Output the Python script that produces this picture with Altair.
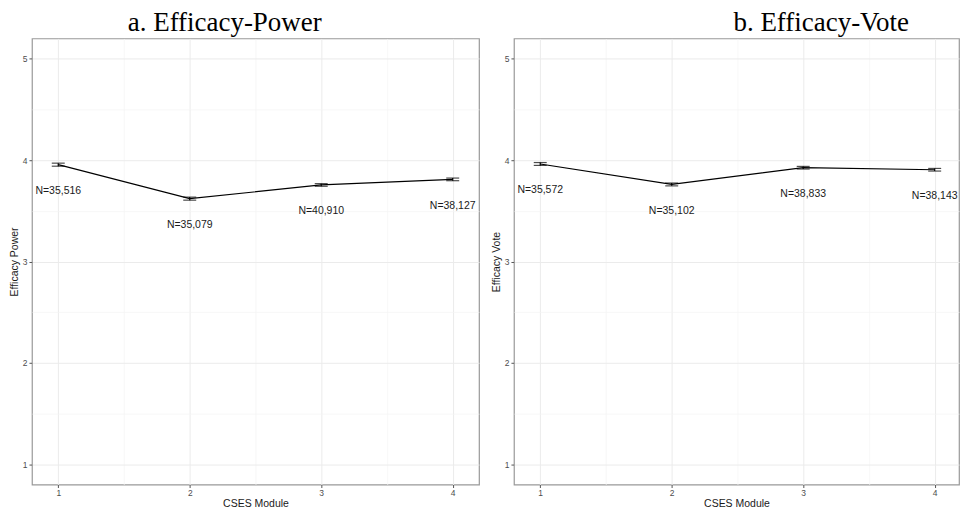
import altair as alt
import pandas as pd

modules = [1, 2, 3, 4]

power_mean = [3.955, 3.62, 3.755, 3.81]
power_lo = [3.94, 3.605, 3.742, 3.797]
power_hi = [3.97, 3.635, 3.768, 3.823]
power_n = ["N=35,516", "N=35,079", "N=40,910", "N=38,127"]

vote_mean = [3.962, 3.76, 3.925, 3.905]
vote_lo = [3.948, 3.746, 3.912, 3.892]
vote_hi = [3.976, 3.774, 3.938, 3.918]
vote_n = ["N=35,572", "N=35,102", "N=38,833", "N=38,143"]

label_offset = 0.26
minor_test = "datum.value % 1 !== 0"
label_expr = "datum.value % 1 === 0 ? format(datum.value, 'd') : ''"


def panel(mean, lo, hi, ns, ytitle, title, dx, xmax, width):
    df = pd.DataFrame({"module": modules, "mean": mean, "lo": lo, "hi": hi, "n": ns})
    x = alt.X(
        "module:Q",
        scale=alt.Scale(domain=[0.8, xmax], nice=False, zero=False),
        axis=alt.Axis(
            values=[1, 1.5, 2, 2.5, 3, 3.5, 4],
            labelExpr=label_expr,
            gridColor={"condition": {"test": minor_test, "value": "#F3F3F3"}, "value": "#EBEBEB"},
            gridWidth={"condition": {"test": minor_test, "value": 0.7}, "value": 1},
            tickOpacity={"condition": {"test": minor_test, "value": 0}, "value": 1},
            labelOverlap=False,
            labelPadding=1,
            titlePadding=2,
        ),
        title="CSES Module",
    )
    yaxis = alt.Axis(
        values=[1, 1.5, 2, 2.5, 3, 3.5, 4, 4.5, 5],
        labelExpr=label_expr,
        gridColor={"condition": {"test": minor_test, "value": "#F3F3F3"}, "value": "#EBEBEB"},
        gridWidth={"condition": {"test": minor_test, "value": 0.7}, "value": 1},
        tickOpacity={"condition": {"test": minor_test, "value": 0}, "value": 1},
        labelOverlap=False,
        titlePadding=3,
    )
    yscale = alt.Scale(domain=[0.8, 5.2], nice=False, zero=False)
    base = alt.Chart(df)
    line = base.mark_line(color="black", strokeWidth=1.2).encode(
        x=x, y=alt.Y("mean:Q", scale=yscale, axis=yaxis, title=ytitle)
    )
    bars = base.mark_rule(color="black", strokeWidth=1.2).encode(
        x="module:Q", y="lo:Q", y2="hi:Q"
    )
    cap_lo = base.mark_tick(color="black", orient="horizontal", size=13, thickness=1.2).encode(
        x="module:Q", y="lo:Q"
    )
    cap_hi = base.mark_tick(color="black", orient="horizontal", size=13, thickness=1.2).encode(
        x="module:Q", y="hi:Q"
    )
    text = base.transform_calculate(ly=f"datum.mean - {label_offset}").mark_text(
        font="Liberation Sans", fontSize=10.5, color="#1a1a1a", align="center", baseline="middle"
    ).encode(x="module:Q", y="ly:Q", text="n:N")
    return alt.layer(line, bars, cap_lo, cap_hi, text).properties(
        width=width,
        height=447,
        title=alt.TitleParams(
            title,
            font="Liberation Serif",
            fontSize=27,
            fontWeight="normal",
            color="black",
            anchor="start",
            frame="group",
            dx=dx,
            offset=1,
        ),
    )


a = panel(power_mean, power_lo, power_hi, power_n, "Efficacy Power", "a. Efficacy-Power", 96, 4.2, 448)
b = panel(vote_mean, vote_lo, vote_hi, vote_n, "Efficacy Vote", "b. Efficacy-Vote", 220, 4.185, 446)

chart = alt.hconcat(a, b, spacing=10).properties(
    padding={"left": 0, "top": 0, "right": 0, "bottom": 0}
).configure_view(stroke="#999999", strokeWidth=1.2).configure_axis(
    domain=False,
    labelFont="Liberation Sans",
    labelFontSize=8.5,
    labelColor="#4D4D4D",
    labelPadding=2,
    tickSize=3,
    tickColor="#555555",
    titleFont="Liberation Sans",
    titleFontSize=10.5,
    titleFontWeight="normal",
    titleColor="#1a1a1a",
    titlePadding=4,
)

chart.save("out.html", embed_options={"renderer": "svg", "actions": False})
